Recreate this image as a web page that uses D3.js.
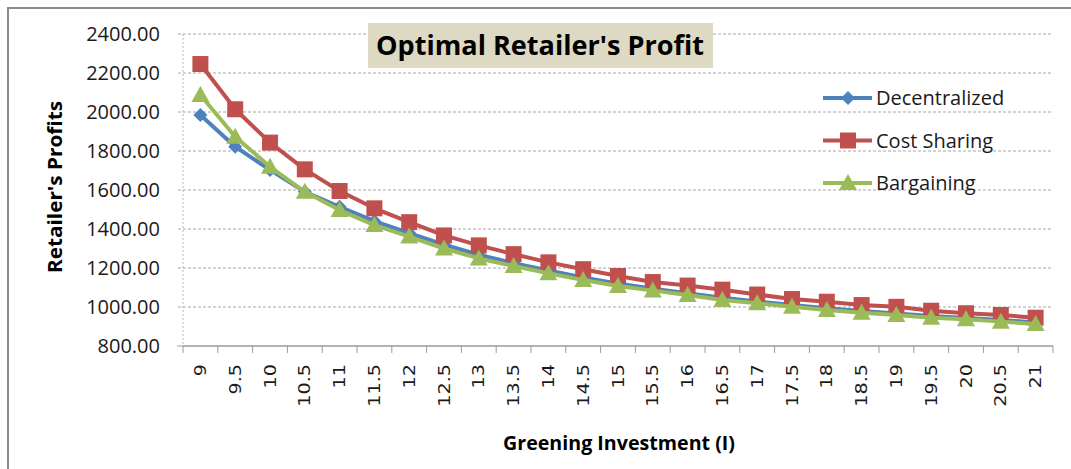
<!DOCTYPE html>
<html>
<head>
<meta charset="utf-8">
<script src="https://cdn.jsdelivr.net/npm/d3@7"></script>
<style>
  body { margin: 0; background: #fff; }
  svg { display: block; }
  text { font-family: "Open Sans", "Noto Sans", sans-serif; fill: #000; }
</style>
</head>
<body>
<svg></svg>
<script>
// greening investment levels (x categories)
const investment = ["9","9.5","10","10.5","11","11.5","12","12.5","13","13.5","14","14.5","15",
                    "15.5","16","16.5","17","17.5","18","18.5","19","19.5","20","20.5","21"];

// retailer's profit for each model
const decentralized = [1985,1822,1703,1591,1514,1440,1379,1320,1268,1225,1187,1152,1120,
                       1094,1070,1047,1028,1010,994,980,967,954,944,933,921];
const costSharing   = [2246,2014,1843,1706,1595,1506,1435,1367,1316,1271,1229,1194,1159,
                       1128,1110,1089,1064,1041,1027,1010,1001,981,968,959,945];
const bargaining    = [2087,1873,1719,1591,1497,1420,1361,1300,1249,1210,1173,1138,1108,
                       1084,1062,1036,1019,1001,985,971,959,945,937,925,913];

const yTicks = [800,1000,1200,1400,1600,1800,2000,2200,2400];

const svgWidth = 1071, svgHeight = 469;
const margin = { top: 34, right: 18, bottom: 123, left: 183 };

const svg = d3.select("svg")
    .attr("width", svgWidth)
    .attr("height", svgHeight);

// outer chart border
svg.append("rect")
    .attr("x", 8).attr("y", 8)
    .attr("width", 1100).attr("height", 500)
    .attr("fill", "none")
    .attr("stroke", "#8c8c8c")
    .attr("stroke-width", 2);

const x = d3.scaleBand()
    .domain(investment)
    .range([margin.left, svgWidth - margin.right]);

const y = d3.scaleLinear()
    .domain([800, 2400])
    .range([svgHeight - margin.bottom, margin.top]);

// horizontal dashed gridlines
svg.append("g")
    .selectAll("line")
    .data(yTicks.filter(d => d > 800))
    .join("line")
    .attr("x1", margin.left - 5)
    .attr("x2", svgWidth - margin.right)
    .attr("y1", d => y(d))
    .attr("y2", d => y(d))
    .attr("stroke", "#a6a6a6")
    .attr("stroke-dasharray", "3,2");

// y axis (dotted line)
svg.append("line")
    .attr("x1", margin.left).attr("x2", margin.left)
    .attr("y1", margin.top).attr("y2", y(800))
    .attr("stroke", "#b5b5b5")
    .attr("stroke-dasharray", "2,2");

svg.append("line")
    .attr("x1", margin.left - 6).attr("x2", margin.left)
    .attr("y1", y(800)).attr("y2", y(800))
    .attr("stroke", "#a0a0a0");

svg.append("g")
    .selectAll("text")
    .data(yTicks)
    .join("text")
    .attr("x", 160)
    .attr("y", d => y(d))
    .attr("dy", "0.36em")
    .attr("text-anchor", "end")
    .style("font-size", "20px")
    .style("fill", "#1a1a1a")
    .text(d => d.toFixed(2));

// x axis
svg.append("line")
    .attr("x1", margin.left).attr("x2", svgWidth - margin.right)
    .attr("y1", y(800)).attr("y2", y(800))
    .attr("stroke", "#9a9a9a")
    .attr("stroke-width", 1.5);

const bounds = investment.map(d => x(d)).concat([x.range()[1]]);
svg.append("g")
    .selectAll("line")
    .data(bounds)
    .join("line")
    .attr("x1", d => d).attr("x2", d => d)
    .attr("y1", y(800)).attr("y2", y(800) + 7)
    .attr("stroke", "#9a9a9a");

svg.append("g")
    .selectAll("text")
    .data(investment)
    .join("text")
    .attr("transform", d => "translate(" + (x(d) + x.bandwidth() / 2) + "," + 364 + ") rotate(-90) scale(1.2,1)")
    .attr("dy", "0.35em")
    .attr("text-anchor", "end")
    .style("font-family", "'DejaVu Sans', sans-serif")
    .style("font-size", "16px")
    .style("fill", "#1a1a1a")
    .text(d => d);

// axis titles
svg.append("text")
    .attr("transform", "translate(62,187) rotate(-90)")
    .attr("text-anchor", "middle")
    .attr("textLength", 172)
    .attr("lengthAdjust", "spacingAndGlyphs")
    .style("font-size", "19px")
    .style("font-weight", "bold")
    .text("Retailer's Profits");

svg.append("text")
    .attr("x", 619)
    .attr("y", 450)
    .attr("text-anchor", "middle")
    .attr("textLength", 232)
    .attr("lengthAdjust", "spacingAndGlyphs")
    .style("font-size", "19px")
    .style("font-weight", "bold")
    .text("Greening Investment (I)");

// series
const series = [
    { name: "Decentralized", values: decentralized, color: "#4f81bd", shape: "diamond" },
    { name: "Cost Sharing",  values: costSharing,   color: "#c0504d", shape: "square" },
    { name: "Bargaining",    values: bargaining,    color: "#9bbb59", shape: "triangle" }
];

function markerPath(shape) {
    if (shape === "diamond") return "M0,-7L7,0L0,7L-7,0Z";
    if (shape === "square") return "M-8,-8L8,-8L8,8L-8,8Z";
    return "M0,-9L9,7L-9,7Z";
}

const line = d3.line()
    .x(function(d, i) { return x(investment[i]) + x.bandwidth() / 2; })
    .y(function(d) { return y(d); });

series.forEach(function(s) {
    const g = svg.append("g");
    g.append("path")
        .datum(s.values)
        .attr("fill", "none")
        .attr("stroke", s.color)
        .attr("stroke-width", 4)
        .attr("stroke-linejoin", "round")
        .attr("d", line);
    g.selectAll(".mark")
        .data(s.values)
        .join("path")
        .attr("class", "mark")
        .attr("transform", (d, i) => "translate(" + (x(investment[i]) + x.bandwidth() / 2) + "," + y(d) + ")")
        .attr("fill", s.color)
        .attr("d", markerPath(s.shape));
});

// legend
const legend = svg.append("g");
series.forEach(function(s, i) {
    const ly = 98 + i * 42.5;
    legend.append("line")
        .attr("x1", 823).attr("x2", 872)
        .attr("y1", ly).attr("y2", ly)
        .attr("stroke", s.color)
        .attr("stroke-width", 4);
    legend.append("path")
        .attr("transform", "translate(848," + ly + ")")
        .attr("fill", s.color)
        .attr("d", markerPath(s.shape));
    legend.append("text")
        .attr("x", 876)
        .attr("y", ly)
        .attr("dy", "0.35em")
        .style("font-size", "20px")
        .style("fill", "#1a1a1a")
        .text(s.name);
});

// title box
svg.append("rect")
    .attr("x", 368).attr("y", 23)
    .attr("width", 345).attr("height", 45)
    .attr("fill", "#ddd9c3");

svg.append("text")
    .attr("x", 540)
    .attr("y", 46)
    .attr("dy", "0.36em")
    .attr("text-anchor", "middle")
    .attr("textLength", 328)
    .attr("lengthAdjust", "spacingAndGlyphs")
    .style("font-size", "26px")
    .style("font-weight", "bold")
    .text("Optimal Retailer's Profit");
</script>
</body>
</html>
